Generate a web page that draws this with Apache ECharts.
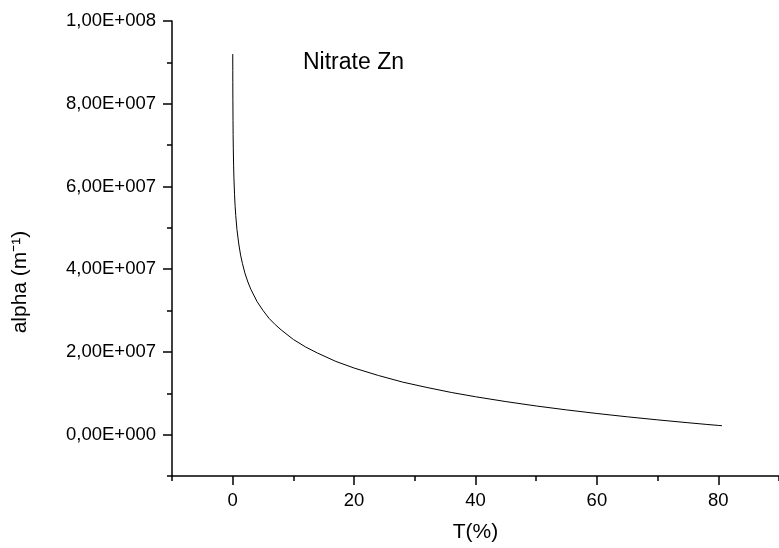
<!DOCTYPE html>
<html>
<head>
<meta charset="utf-8">
<script src="https://cdn.jsdelivr.net/npm/echarts@6/dist/echarts.min.js"></script>
<style>
html,body{margin:0;padding:0;background:#fff;}
#chart{width:779px;height:548px;}
</style>
</head>
<body>
<div id="chart"></div>
<script>
// Transmittance T (%)
var tValues = [0.01, 0.015, 0.02, 0.03, 0.05, 0.07, 0.1, 0.15, 0.2, 0.3, 0.4, 0.5, 0.7, 1.0, 1.3, 1.6, 2.0, 2.5, 3.0, 4.0, 5.0, 6.0, 7.0, 8.0, 10, 12, 14, 17, 20, 24, 28, 32, 36, 40, 45, 50, 55, 60, 65, 70, 75, 78, 80, 80.6];
// absorption coefficient alpha (m^-1)
var alphaValues = [9.20e7, 8.80e7, 8.52e7, 8.11e7, 7.60e7, 7.26e7, 6.91e7, 6.50e7, 6.21e7, 5.81e7, 5.52e7, 5.30e7, 4.96e7, 4.61e7, 4.34e7, 4.14e7, 3.91e7, 3.69e7, 3.51e7, 3.22e7, 3.00e7, 2.81e7, 2.66e7, 2.53e7, 2.30e7, 2.12e7, 1.97e7, 1.77e7, 1.61e7, 1.43e7, 1.27e7, 1.14e7, 1.02e7, 9.16e6, 7.99e6, 6.93e6, 5.98e6, 5.11e6, 4.31e6, 3.57e6, 2.88e6, 2.48e6, 2.23e6, 2.16e6];
var xMajorTicks = [0, 20, 40, 60, 80];
var yMajorTicks = [0, 2e7, 4e7, 6e7, 8e7, 1e8];
var titleText = 'Nitrate Zn';
var xName = 'T(%)';
var yName = 'alpha (m\u207B\u00B9)';

var FONT = "'Liberation Sans', Arial, sans-serif";
function sciLabel(v) {
  if (v === 0) return '0,00E+000';
  var e = Math.floor(Math.log10(Math.abs(v)) + 1e-9);
  var m = v / Math.pow(10, e);
  return m.toFixed(2).replace('.', ',') + 'E+' + String(e).padStart(3, '0');
}
var data = tValues.map(function (t, i) { return [t, alphaValues[i]]; });
var chart = echarts.init(document.getElementById('chart'));
var axisLine = { show: true, onZero: false, lineStyle: { color: '#000', width: 1.5 } };
chart.setOption({
  animation: false,
  backgroundColor: '#fff',
  grid: { left: 172, top: 21, width: 612, height: 456 },
  xAxis: [{
    type: 'value', min: -10, max: 90, interval: 10, position: 'bottom',
    axisLine: axisLine,
    axisTick: { show: true, length: 5, lineStyle: { color: '#000', width: 1.5 } },
    axisLabel: { customValues: xMajorTicks, color: '#000', fontFamily: FONT, fontSize: 18.5, margin: 15 },
    splitLine: { show: false },
    name: xName, nameLocation: 'middle', nameGap: 46,
    nameTextStyle: { color: '#000', fontFamily: FONT, fontSize: 21 }
  }, {
    type: 'value', min: -10, max: 90, position: 'bottom',
    axisLine: { show: false, onZero: false },
    axisTick: { show: true, customValues: xMajorTicks, length: 9, lineStyle: { color: '#000', width: 1.5 } },
    axisLabel: { show: false }, splitLine: { show: false }
  }],
  yAxis: [{
    type: 'value', min: -1e7, max: 1e8, interval: 1e7, position: 'left',
    axisLine: axisLine,
    axisTick: { show: true, length: 5, lineStyle: { color: '#000', width: 1.5 } },
    axisLabel: { customValues: yMajorTicks, formatter: sciLabel, color: '#000', fontFamily: FONT, fontSize: 18.5, margin: 16 },
    splitLine: { show: false }
  }, {
    type: 'value', min: -1e7, max: 1e8, position: 'left',
    axisLine: { show: false, onZero: false },
    axisTick: { show: true, customValues: yMajorTicks, length: 9, lineStyle: { color: '#000', width: 1.5 } },
    axisLabel: { show: false }, splitLine: { show: false }
  }],
  graphic: [{
    type: 'text', left: 303, top: 51,
    style: { text: titleText, fill: '#000', font: '23px ' + FONT }
  }, {
    type: 'text', x: 20, y: 282, rotation: Math.PI / 2,
    style: { text: yName, fill: '#000', font: '21px ' + FONT, align: 'center', verticalAlign: 'middle' }
  }],
  series: [{
    type: 'line', xAxisIndex: 0, yAxisIndex: 0, data: data,
    symbol: 'none', smooth: false,
    lineStyle: { color: '#000', width: 1 }
  }]
});
</script>
</body>
</html>
